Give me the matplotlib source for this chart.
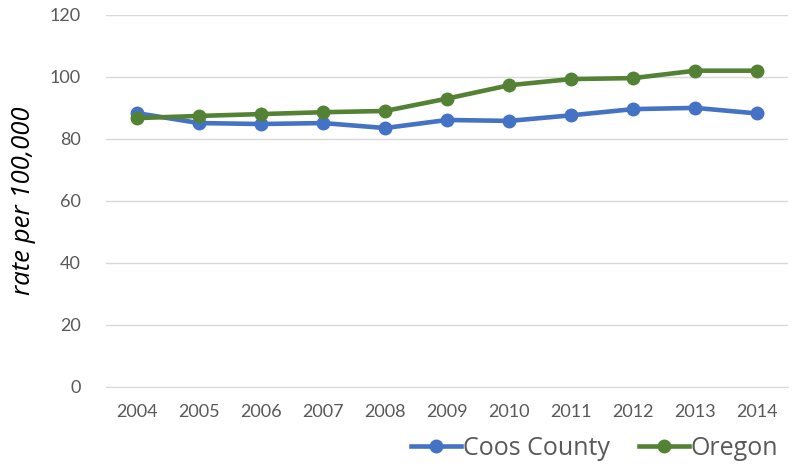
import matplotlib
matplotlib.use("Agg")
import matplotlib.pyplot as plt

years = ['2004', '2005', '2006', '2007', '2008', '2009', '2010', '2011', '2012', '2013', '2014']
coos = [88.3, 85.1, 84.8, 85.1, 83.5, 86.1, 85.8, 87.6, 89.6, 90.0, 88.2]
oregon = [86.7, 87.4, 88.0, 88.6, 89.0, 93.0, 97.3, 99.3, 99.6, 102.0, 102.0]
yticks = [0, 20, 40, 60, 80, 100, 120]

fig = plt.figure(figsize=(7.97, 4.65), dpi=100)
ax = fig.add_axes([0.133, 0.168, 0.856, 0.800])

x = list(range(len(years)))
ax.plot(x, coos, color='#4472C4', lw=3.3, marker='o', ms=9, label='Coos County', zorder=3)
ax.plot(x, oregon, color='#548235', lw=3.3, marker='o', ms=9, label='Oregon', zorder=4)

ax.set_xlim(-0.5, len(years) - 0.5)
ax.set_ylim(0, 120)
ax.set_yticks(yticks)
ax.set_xticks(x)
ax.set_xticklabels(years)
ax.grid(axis='y', color='#d9d9d9', lw=1)
ax.set_axisbelow(True)
for s in ['left', 'right', 'top']:
    ax.spines[s].set_visible(False)
ax.spines['bottom'].set_color('#d9d9d9')
ax.tick_params(length=0, labelsize=13, labelcolor='#595959')
ax.tick_params(axis='x', pad=12)
ax.tick_params(axis='y', pad=18)
for lab in ax.get_xticklabels() + ax.get_yticklabels():
    lab.set_family('Lato')
ax.set_ylabel('rate per 100,000', fontsize=18.5, style='italic', family='Open Sans', labelpad=10)

ax.legend(loc='upper right', bbox_to_anchor=(1.0, -0.105), ncol=2, frameon=False,
          prop={'family': 'Open Sans', 'size': 18}, handlelength=2.0,
          handletextpad=0.05, columnspacing=1.2, labelcolor='#595959', borderaxespad=0)

fig.savefig('out.png', dpi=100)
